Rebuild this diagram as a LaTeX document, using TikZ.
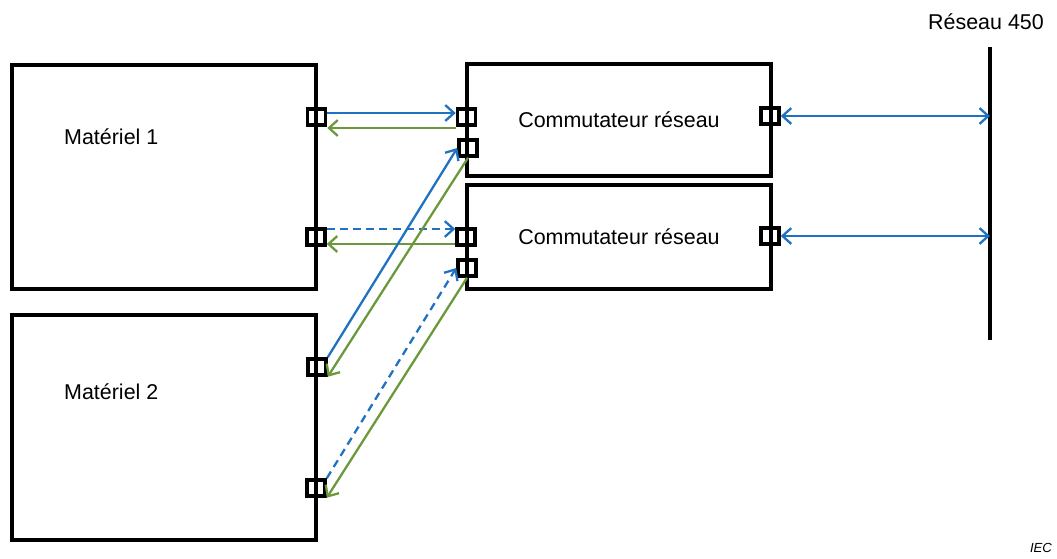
\documentclass[tikz,border=0pt]{standalone}
\usepackage{fontspec}
\setmainfont{Liberation Sans}
\usepackage{xcolor}
\usepackage{tikz}
\usetikzlibrary{calc,positioning,arrows.meta}
\definecolor{linkblue}{RGB}{31,114,192}
\definecolor{linkgreen}{RGB}{106,152,58}
\tikzstyle{line} = [draw, -, line width=2pt]
\tikzset{
>={Straight Barb[length=5pt,width=9pt]},
  unitbox/.style={
    rectangle,
    draw=black, line width=2pt,
    inner sep=0pt,
    minimum width=6.08cm,
    font=\fontsize{12.2}{14}\selectfont},
  portbox/.style={
    rectangle,
    draw=black, line width=2pt,
    inner sep=0pt,
    minimum width=0.36cm,
    minimum height=0.32cm},
  tolink/.style={draw=linkblue, line width=1.3pt, ->},
  fromlink/.style={draw=linkgreen, line width=1.3pt, ->},
  netlink/.style={draw=linkblue, line width=1.3pt, <->},
  spare/.style={dash pattern=on 4.5pt off 3pt},
  label/.style={font=\fontsize{12.2}{14}\selectfont},
}
\begin{document}
\begin{tikzpicture}[x=0.02cm,y=-0.02cm]
  \useasboundingbox (0,0) rectangle (1057,558);
     % equipments and switches
     \node[unitbox, minimum height=4.48cm] (mat1) at (164,177) {};
     \node[unitbox, minimum height=4.5cm] (mat2) at (164,427.5) {};
     \node[unitbox, minimum height=2.24cm] (sw1) at (619,120) {Commutateur réseau};
     \node[unitbox, minimum height=2.08cm] (sw2) at (619,237) {Commutateur réseau};
     \node[label, anchor=west] (mat1txt) at (58,137) {Matériel 1};
     \node[label, anchor=west] (mat2txt) at (58,392) {Matériel 2};

     % ports
     \node[portbox] (m1a) at (316.5,117) {};
     \node[portbox] (m1b) at (316,237) {};
     \node[portbox] (m2a) at (317,367) {};
     \node[portbox] (m2b) at (316,488) {};
     \node[portbox] (s1a) at (466.5,117) {};
     \node[portbox] (s1b) at (468,148) {};
     \node[portbox] (s2a) at (466,237) {};
     \node[portbox] (s2b) at (467,268) {};
     \node[portbox] (s1r) at (770,116) {};
     \node[portbox] (s2r) at (770,236) {};

     % network
     \coordinate (nettop) at (990,47);
     \coordinate (netbot) at (990,340);
     \path[line] (nettop) -- (netbot);
     \node[label] (nettxt) at (986,22) {Réseau 450};

     % links
     \path[tolink] ([yshift=0.08cm]m1a.east) -- ([yshift=0.08cm]s1a.west);
     \path[fromlink] ([yshift=-0.22cm]s1a.west) -- ([yshift=-0.22cm]m1a.east);
     \path[tolink, spare] ([yshift=0.16cm]m1b.east) -- ([yshift=0.16cm]s2a.west);
     \path[fromlink] ([yshift=-0.14cm]s2a.west) -- ([yshift=-0.14cm]m1b.east);
     \path[tolink] (m2a.north east) -- (s1b.west);
     \path[fromlink] (s1b.south) -- (m2a.south east);
     \path[tolink, spare] (m2b.north east) -- (s2b.west);
     \path[fromlink] (s2b.south) -- (m2b.south east);
     \path[netlink] (s1r.east) -- (s1r.east -| nettop);
     \path[netlink] (s2r.east) -- (s2r.east -| nettop);

     \node[font=\fontsize{7.5}{9}\selectfont\itshape] (iec) at (1041,548) {IEC};
  \end{tikzpicture}
\end{document}
